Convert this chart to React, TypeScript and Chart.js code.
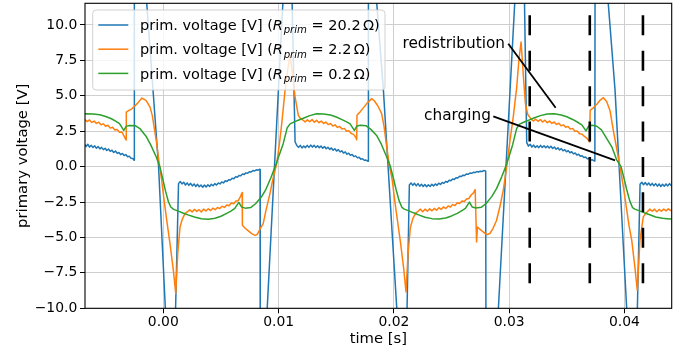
import React, { useEffect, useRef } from 'react';
import { Chart, registerables } from 'chart.js';

Chart.register(...registerables);

type P = [number, number];

const xMin = -0.006791;
const xMax = 0.044094;
const yMin = -10;
const yMax = 11.53;
const xStep = 0.01;
const yStep = 2.5;

const resistances = ['20.2', '2.2', '0.2'];
const colors = ['#1f77b4', '#ff7f0e', '#2ca02c'];

// prim. voltage, R_prim = 20.2 Ohm
const bluePrim: P[] = [
  [-0.0070, 1.45], [-0.00685, 1.6], [-0.0067, 1.42], [-0.00655, 1.58], [-0.0064, 1.38], [-0.00625, 1.5],
  [-0.0061, 1.35], [-0.00595, 1.47], [-0.0058, 1.3], [-0.00565, 1.42], [-0.0055, 1.25], [-0.00535, 1.36],
  [-0.0052, 1.2], [-0.00505, 1.3], [-0.0049, 1.14], [-0.00475, 1.24], [-0.0046, 1.08], [-0.00445, 1.16],
  [-0.0043, 1.0], [-0.00415, 1.1], [-0.0040, 0.94], [-0.00385, 1.0], [-0.0037, 0.85], [-0.00355, 0.93],
  [-0.0034, 0.78], [-0.00325, 0.85], [-0.0031, 0.7], [-0.00295, 0.74], [-0.0028, 0.6], [-0.00265, 0.58],
  [-0.00253, 0.45], [-0.00251, 15.5], [-0.00179, 15.5], [-0.00041, 0], [0.00041, -14], [0.00095, -14],
  [0.00132, -1.2], [0.00147, -1.05], [0.00162, -1.22], [0.00177, -1.1], [0.00192, -1.3], [0.00207, -1.15],
  [0.00222, -1.32], [0.00237, -1.18], [0.00252, -1.36], [0.00267, -1.22], [0.00282, -1.4], [0.00297, -1.25],
  [0.00312, -1.42], [0.00327, -1.3], [0.00342, -1.45], [0.00357, -1.3], [0.00372, -1.44], [0.00387, -1.28],
  [0.00402, -1.4], [0.00417, -1.25], [0.00432, -1.35], [0.00447, -1.2], [0.00462, -1.3], [0.00477, -1.15],
  [0.00492, -1.22], [0.00507, -1.08], [0.00522, -1.15], [0.00537, -1.0], [0.00552, -1.05], [0.00567, -0.92],
  [0.00582, -0.95], [0.00597, -0.82], [0.00612, -0.85], [0.00627, -0.72], [0.00642, -0.75], [0.00657, -0.62],
  [0.00672, -0.64], [0.00687, -0.52], [0.00702, -0.55], [0.00717, -0.44], [0.00732, -0.46], [0.00747, -0.36],
  [0.00762, -0.38], [0.00777, -0.28], [0.00792, -0.3], [0.00807, -0.22], [0.00822, -0.25], [0.00837, -0.18],
  [0.00839, -0.2], [0.00841, -14], [0.00876, -14], [0.01062, 15.5], [0.01107, 15.5], [0.01143, 1.74],
  [0.01158, 1.5], [0.01173, 1.36], [0.01188, 1.5], [0.01203, 1.32], [0.01218, 1.46], [0.01233, 1.34],
  [0.01248, 1.5], [0.01263, 1.36], [0.01278, 1.52], [0.01293, 1.38], [0.01308, 1.5], [0.01323, 1.35],
  [0.01338, 1.48], [0.01353, 1.34], [0.01368, 1.45], [0.01383, 1.3], [0.01398, 1.42], [0.01413, 1.26],
  [0.01428, 1.37], [0.01443, 1.22], [0.01458, 1.32], [0.01473, 1.16], [0.01488, 1.26], [0.01503, 1.1],
  [0.01518, 1.2], [0.01533, 1.04], [0.01548, 1.12], [0.01563, 0.96], [0.01578, 1.04], [0.01593, 0.88],
  [0.01608, 0.95], [0.01623, 0.8], [0.01638, 0.86], [0.01653, 0.71], [0.01668, 0.76], [0.01683, 0.62],
  [0.01698, 0.66], [0.01713, 0.53], [0.01728, 0.56], [0.01743, 0.45], [0.01758, 0.46], [0.01776, 0.38],
  [0.01779, 15.5], [0.01814, 15.5], [0.01909, 5.4], [0.02055, -14], [0.02105, -14], [0.02134, -1.3],
  [0.02149, -1.15], [0.02164, -1.32], [0.02179, -1.18], [0.02194, -1.36], [0.02209, -1.2], [0.02224, -1.38],
  [0.02239, -1.24], [0.02254, -1.4], [0.02269, -1.26], [0.02284, -1.42], [0.02299, -1.28], [0.02314, -1.4],
  [0.02329, -1.25], [0.02344, -1.36], [0.02359, -1.22], [0.02374, -1.32], [0.02389, -1.17], [0.02404, -1.26],
  [0.02419, -1.12], [0.02434, -1.18], [0.02449, -1.04], [0.02464, -1.1], [0.02479, -0.96], [0.02494, -1.0],
  [0.02509, -0.88], [0.02524, -0.9], [0.02539, -0.78], [0.02554, -0.8], [0.02569, -0.68], [0.02584, -0.7],
  [0.02599, -0.6], [0.02614, -0.62], [0.02629, -0.52], [0.02644, -0.54], [0.02659, -0.45], [0.02674, -0.47],
  [0.02689, -0.4], [0.02704, -0.42], [0.02719, -0.35], [0.02734, -0.38], [0.02749, -0.32], [0.02764, -0.34],
  [0.02779, -0.28], [0.02796, -0.3], [0.02799, -14], [0.0288, -14], [0.03074, 15.5], [0.03125, 15.5],
  [0.03152, 1.7], [0.03167, 1.45], [0.03182, 1.58], [0.03197, 1.38], [0.03212, 1.52], [0.03227, 1.35],
  [0.03242, 1.48], [0.03257, 1.34], [0.03272, 1.5], [0.03287, 1.35], [0.03302, 1.48], [0.03317, 1.33],
  [0.03332, 1.46], [0.03347, 1.32], [0.03362, 1.44], [0.03377, 1.28], [0.03392, 1.38], [0.03407, 1.23],
  [0.03422, 1.33], [0.03437, 1.18], [0.03452, 1.27], [0.03467, 1.12], [0.03482, 1.2], [0.03497, 1.05],
  [0.03512, 1.13], [0.03527, 0.98], [0.03542, 1.05], [0.03557, 0.9], [0.03572, 0.96], [0.03587, 0.82],
  [0.03602, 0.87], [0.03617, 0.73], [0.03632, 0.77], [0.03647, 0.64], [0.03662, 0.68], [0.03677, 0.55],
  [0.03692, 0.58], [0.03707, 0.47], [0.03722, 0.48], [0.03737, 0.4], [0.03743, 0.42], [0.03745, 15.5],
  [0.03821, 15.5], [0.03918, 5.4], [0.04045, -14], [0.04101, -14], [0.04135, -1.25], [0.0415, -1.1],
  [0.04165, -1.28], [0.0418, -1.12], [0.04195, -1.3], [0.0421, -1.15], [0.04225, -1.33], [0.0424, -1.18],
  [0.04255, -1.35], [0.0427, -1.2], [0.04285, -1.38], [0.043, -1.22], [0.04315, -1.4], [0.0433, -1.25],
  [0.04345, -1.38], [0.0436, -1.22], [0.04375, -1.36], [0.0439, -1.2], [0.04405, -1.34], [0.0442, -1.18],
];

// prim. voltage, R_prim = 2.2 Ohm
const orangePrim: P[] = [
  [-0.0070, 3.25], [-0.0068, 3.32], [-0.0066, 3.18], [-0.0064, 3.3], [-0.0062, 3.12], [-0.0060, 3.22],
  [-0.0058, 3.05], [-0.0056, 3.14], [-0.0054, 2.95], [-0.0052, 3.02], [-0.0050, 2.85], [-0.0048, 2.92],
  [-0.0046, 2.72], [-0.0044, 2.78], [-0.0042, 2.58], [-0.0040, 2.62], [-0.0038, 2.42], [-0.0036, 2.45],
  [-0.0034, 2.15], [-0.00323, 1.88], [-0.00321, 3.85], [-0.0030, 3.95], [-0.0027, 4.1], [-0.0022, 4.5],
  [-0.00186, 4.84], [-0.0015, 4.68], [-0.00115, 4.2], [-0.00095, 3.6], [-0.0008, 2.8], [-0.0006, 1.8],
  [-0.00043, 0.68], [-0.00014, -0.97], [0.00009, -2.5], [0.0003, -3.79], [0.00058, -5.43], [0.00087, -7.3],
  [0.00108, -8.96], [0.00125, -6.14], [0.00145, -4.26], [0.00165, -3.7], [0.00188, -3.32], [0.0021, -3.18],
  [0.0023, -3.05], [0.0025, -3.2], [0.0027, -3.02], [0.0029, -3.16], [0.0031, -3.04], [0.0033, -3.2],
  [0.0035, -3.0], [0.0037, -3.13], [0.0039, -2.97], [0.0041, -3.1], [0.0043, -2.93], [0.0045, -3.04],
  [0.0047, -2.88], [0.0049, -2.96], [0.0051, -2.8], [0.0053, -2.88], [0.0055, -2.7], [0.0057, -2.76],
  [0.0059, -2.56], [0.0061, -2.62], [0.0063, -2.42], [0.0065, -2.4], [0.0067, -2.1], [0.00684, -1.82],
  [0.00686, -4.14], [0.0071, -4.35], [0.0074, -4.55], [0.0077, -4.75], [0.00795, -4.85], [0.00815, -4.78],
  [0.0084, -4.4], [0.00867, -4.0], [0.0089, -3.1], [0.00925, -1.9], [0.0095, -0.9], [0.00984, 0.21],
  [0.0101, 1.8], [0.01027, 3.03], [0.01056, 5.38], [0.0108, 6.9], [0.011, 7.85], [0.0112, 6.6],
  [0.01143, 4.9], [0.01171, 3.62], [0.0119, 3.4], [0.01214, 3.27], [0.0123, 3.15], [0.0125, 3.3],
  [0.0127, 3.17], [0.0129, 3.32], [0.0131, 3.14], [0.0133, 3.27], [0.0135, 3.1], [0.0137, 3.22],
  [0.0139, 3.04], [0.0141, 3.15], [0.0143, 2.97], [0.0145, 3.05], [0.0147, 2.87], [0.0149, 2.95],
  [0.0151, 2.77], [0.0153, 2.84], [0.0155, 2.65], [0.0157, 2.7], [0.0159, 2.5], [0.0161, 2.54],
  [0.0163, 2.34], [0.0165, 2.28], [0.0167, 2.05], [0.01677, 1.9], [0.0168, 3.62], [0.0171, 3.9],
  [0.0174, 4.2], [0.0177, 4.5], [0.01807, 4.8], [0.0183, 4.65], [0.0186, 4.3], [0.01894, 3.74],
  [0.01915, 2.8], [0.01938, 1.38], [0.0196, 0.1], [0.01986, -0.97], [0.02009, -2.5], [0.0203, -3.75],
  [0.02058, -5.4], [0.02085, -7.2], [0.02105, -8.85], [0.02123, -6.1], [0.02143, -4.3], [0.02165, -3.65],
  [0.02188, -3.3], [0.0221, -3.15], [0.0223, -3.0], [0.0225, -3.18], [0.0227, -3.0], [0.0229, -3.15],
  [0.0231, -2.98], [0.0233, -3.12], [0.0235, -2.95], [0.0237, -3.08], [0.0239, -2.9], [0.0241, -3.02],
  [0.0243, -2.85], [0.0245, -2.95], [0.0247, -2.78], [0.0249, -2.85], [0.0251, -2.68], [0.0253, -2.74],
  [0.0255, -2.55], [0.0257, -2.6], [0.0259, -2.42], [0.0261, -2.46], [0.0263, -2.28], [0.0265, -2.25],
  [0.0267, -2.0], [0.0269, -1.85], [0.02705, -1.62], [0.02717, -5.32], [0.02725, -4.26], [0.0275, -4.45],
  [0.0278, -4.65], [0.0281, -4.8], [0.02835, -4.7], [0.0286, -4.35], [0.0289, -3.8], [0.0292, -2.8],
  [0.0295, -1.6], [0.0298, 0.1], [0.03007, 1.86], [0.03035, 3.5], [0.03065, 5.6], [0.03085, 7.6],
  [0.03103, 8.8], [0.03122, 6.5], [0.0314, 4.5], [0.0316, 3.7], [0.0319, 3.35], [0.0321, 3.22],
  [0.0323, 3.35], [0.0325, 3.2], [0.0327, 3.33], [0.0329, 3.15], [0.0331, 3.28], [0.0333, 3.1],
  [0.0335, 3.22], [0.0337, 3.05], [0.0339, 3.15], [0.0341, 2.98], [0.0343, 3.06], [0.0345, 2.88],
  [0.0347, 2.95], [0.0349, 2.78], [0.0351, 2.84], [0.0353, 2.65], [0.0355, 2.7], [0.0357, 2.5],
  [0.0359, 2.52], [0.0361, 2.32], [0.0363, 2.3], [0.0365, 2.15], [0.03675, 2.0], [0.03698, 1.74],
  [0.03702, 3.97], [0.0373, 4.15], [0.0376, 4.4], [0.0379, 4.7], [0.03817, 4.87], [0.03845, 4.6],
  [0.03874, 3.97], [0.03903, 2.56], [0.03946, 0.68], [0.03989, -1.35], [0.04015, -2.8], [0.0404, -4.2],
  [0.04063, -5.2], [0.0409, -7.1], [0.04111, -8.73], [0.04134, -5.2], [0.04163, -3.55], [0.0419, -3.25],
  [0.0422, -3.0], [0.0424, -3.15], [0.0426, -3.0], [0.0428, -3.18], [0.043, -3.02], [0.0432, -3.15],
  [0.0434, -3.0], [0.0436, -3.12], [0.0438, -2.98], [0.044, -3.1], [0.0442, -3.0],
];

// prim. voltage, R_prim = 0.2 Ohm
const greenPrim: P[] = [
  [-0.0069, 3.71], [-0.0067, 3.73], [-0.0061, 3.72], [-0.0055, 3.66], [-0.0050, 3.54], [-0.0045, 3.38],
  [-0.0041, 3.2], [-0.0038, 3.03], [-0.00343, 2.56], [-0.0032, 2.86], [-0.0029, 2.91], [-0.0024, 2.88],
  [-0.0020, 2.66], [-0.0015, 2.15], [-0.0011, 1.55], [-0.00062, 0.7], [-0.0003, 0.0], [-0.00005, -0.85],
  [0.0002, -1.75], [0.00045, -2.5], [0.00065, -2.85], [0.0009, -3.02], [0.0013, -3.14], [0.0017, -3.27],
  [0.0022, -3.42], [0.0027, -3.56], [0.0033, -3.68], [0.0039, -3.71], [0.0045, -3.64], [0.0050, -3.5],
  [0.0055, -3.3], [0.0059, -3.12], [0.0062, -2.95], [0.00655, -2.52], [0.0068, -2.86], [0.0071, -2.93],
  [0.0076, -2.88], [0.0080, -2.62], [0.0085, -2.15], [0.0089, -1.6], [0.00935, -0.75], [0.0097, 0.0],
  [0.0100, 0.7], [0.0104, 1.62], [0.01075, 2.75], [0.0110, 3.02], [0.0114, 3.18], [0.0117, 3.27],
  [0.0122, 3.43], [0.0127, 3.6], [0.0133, 3.73], [0.0139, 3.72], [0.0145, 3.65], [0.0150, 3.5],
  [0.0155, 3.32], [0.0159, 3.16], [0.0162, 3.02], [0.01657, 2.56], [0.0168, 2.87], [0.0171, 2.92],
  [0.0176, 2.88], [0.0180, 2.63], [0.0185, 2.2], [0.0189, 1.6], [0.01938, 0.68], [0.0197, 0.0],
  [0.01995, -0.8], [0.0202, -1.65], [0.02045, -2.4], [0.0207, -2.88], [0.0209, -3.0], [0.0213, -3.12],
  [0.0217, -3.26], [0.0222, -3.42], [0.0227, -3.57], [0.0233, -3.67], [0.0239, -3.7], [0.0245, -3.62],
  [0.0250, -3.48], [0.0255, -3.3], [0.0259, -3.1], [0.0262, -2.95], [0.02655, -2.5], [0.0268, -2.85],
  [0.0271, -2.92], [0.0276, -2.86], [0.0280, -2.6], [0.0285, -2.1], [0.0289, -1.55], [0.02935, -0.72],
  [0.0297, 0.0], [0.0300, 0.75], [0.0303, 1.55], [0.03065, 2.7], [0.0309, 3.0], [0.0313, 3.15],
  [0.0317, 3.28], [0.0322, 3.45], [0.0327, 3.6], [0.0333, 3.72], [0.0339, 3.73], [0.0345, 3.65],
  [0.0350, 3.52], [0.0355, 3.33], [0.0359, 3.15], [0.0363, 2.95], [0.03666, 2.52], [0.0369, 2.87],
  [0.0372, 2.92], [0.0376, 2.85], [0.0380, 2.6], [0.03845, 2.0], [0.0389, 1.4], [0.03931, 0.5],
  [0.0397, 0.0], [0.03995, -0.8], [0.0402, -1.65], [0.04045, -2.4], [0.0407, -2.9], [0.0409, -3.0],
  [0.0413, -3.12], [0.0417, -3.25], [0.0422, -3.4], [0.0427, -3.55], [0.0433, -3.65], [0.0439, -3.69],
  [0.0443, -3.68],
];

// dashed vertical markers
const markerTimes = [0.03178, 0.03699, 0.0416];
const markerSpan = [10.68, -8.3];

// annotations
const noteLabels = ['redistribution', 'charging'];
const noteTextAt: P[] = [[0.02964, 8.63], [0.02842, 3.55]];
const noteFrom: P[] = [[0.02992, 8.68], [0.02862, 3.55]];
const noteTo: P[] = [[0.03403, 4.16], [0.03918, 0.44]];

const FONT = "'DejaVu Sans', sans-serif";
const LABEL_SIZE = 14.8;
const LEGEND_SIZE = 14.5;

const toXY = (arr: P[]) => arr.map(([x, y]) => ({ x, y }));

function drawLegend(ctx: CanvasRenderingContext2D) {
  const bx = 92.7, by = 10, bw = 292.3, bh = 80, r = 3.5;
  ctx.save();
  ctx.beginPath();
  ctx.moveTo(bx + r, by);
  ctx.arcTo(bx + bw, by, bx + bw, by + bh, r);
  ctx.arcTo(bx + bw, by + bh, bx, by + bh, r);
  ctx.arcTo(bx, by + bh, bx, by, r);
  ctx.arcTo(bx, by, bx + bw, by, r);
  ctx.closePath();
  ctx.fillStyle = 'rgba(255,255,255,0.8)';
  ctx.fill();
  ctx.strokeStyle = 'rgba(204,204,204,0.9)';
  ctx.lineWidth = 1;
  ctx.stroke();
  const fs = LEGEND_SIZE;
  resistances.forEach((res, i) => {
    const cy = 25 + i * 24.2;
    ctx.strokeStyle = colors[i];
    ctx.lineWidth = 1.5;
    ctx.beginPath();
    ctx.moveTo(98.3, cy);
    ctx.lineTo(128.3, cy);
    ctx.stroke();
    let x = 140;
    const base = cy + 5.2;
    ctx.fillStyle = '#000';
    ctx.textBaseline = 'alphabetic';
    ctx.textAlign = 'left';
    const seg = (text: string, font: string, dy = 0) => {
      ctx.font = font;
      ctx.fillText(text, x, base + dy);
      x += ctx.measureText(text).width;
    };
    seg('prim. voltage [V] (', `${fs}px ${FONT}`);
    seg('R', `italic ${fs}px ${FONT}`);
    x += 0.8;
    seg('prim', `italic ${(fs * 0.7).toFixed(2)}px ${FONT}`, 3.2);
    seg(` = ${res}`, `${fs}px ${FONT}`);
    x += 2.4;
    seg('\u03A9)', `${fs}px ${FONT}`);
  });
  ctx.restore();
}

const overlay = {
  id: 'overlay',
  afterDatasetsDraw(chart: any) {
    const { ctx, chartArea: a, scales } = chart;
    const xs = scales.x, ys = scales.y;
    ctx.save();
    ctx.strokeStyle = '#000';
    ctx.lineWidth = 1.1;
    ctx.strokeRect(a.left, a.top, a.right - a.left, a.bottom - a.top);
    ctx.font = `15.3px ${FONT}`;
    ctx.fillStyle = '#000';
    ctx.textAlign = 'right';
    ctx.textBaseline = 'middle';
    noteLabels.forEach((s, i) => {
      ctx.fillText(s, xs.getPixelForValue(noteTextAt[i][0]), ys.getPixelForValue(noteTextAt[i][1]));
    });
    ctx.restore();
  },
  afterDraw(chart: any) {
    drawLegend(chart.ctx);
  },
};

export default function App() {
  const ref = useRef<HTMLCanvasElement | null>(null);
  useEffect(() => {
    if (!ref.current) return;
    const series = [bluePrim, orangePrim, greenPrim];
    const datasets: any[] = series.map((s, i) => ({
      label: `R_prim = ${resistances[i]}`,
      data: toXY(s),
      borderColor: colors[i],
      borderWidth: 1.5,
      pointRadius: 0,
      tension: 0,
      fill: false,
      borderJoinStyle: 'round',
      order: 3 - i,
      clip: 0,
    }));
    markerTimes.forEach((t) => {
      datasets.push({
        data: [{ x: t, y: markerSpan[0] }, { x: t, y: markerSpan[1] }],
        borderColor: '#000',
        borderWidth: 2.6,
        borderDash: [20, 15.4],
        pointRadius: 0,
        fill: false,
        order: 0,
        clip: 0,
      });
    });
    noteFrom.forEach((f, i) => {
      datasets.push({
        data: [{ x: f[0], y: f[1] }, { x: noteTo[i][0], y: noteTo[i][1] }],
        borderColor: '#000',
        borderWidth: 1.8,
        pointRadius: 0,
        fill: false,
        order: 0,
        clip: 0,
      });
    });
    const tickFont = { family: FONT, size: 13.9 };
    const titleFont = { family: FONT, size: LABEL_SIZE };
    const chart = new Chart(ref.current, {
      type: 'line',
      data: { datasets },
      options: {
        animation: false,
        responsive: false,
        events: [],
        layout: { padding: { left: 0, right: 9.3, top: 3.3, bottom: 0 } },
        plugins: { legend: { display: false }, tooltip: { enabled: false } },
        scales: {
          x: {
            type: 'linear',
            min: xMin,
            max: xMax,
            ticks: {
              stepSize: xStep,
              includeBounds: false,
              callback: (v: any) => Number(v).toFixed(2),
              font: tickFont,
              color: '#000',
              padding: 0.3,
              maxRotation: 0,
              autoSkip: false,
            },
            grid: { color: '#cfcfcf', lineWidth: 1, tickColor: '#000', tickLength: 5 },
            border: { display: false },
            title: { display: true, text: 'time [s]', font: titleFont, color: '#000', padding: { top: 0, bottom: 5.2 } },
            afterFit: (s: any) => { s.height = 44.7; s.paddingLeft = 0; s.paddingRight = 0; },
          },
          y: {
            type: 'linear',
            min: yMin,
            max: yMax,
            ticks: {
              stepSize: yStep,
              includeBounds: false,
              callback: (v: any) => Number(v).toFixed(1).replace('-', '\u2212'),
              font: tickFont,
              color: '#000',
              padding: 2.7,
              autoSkip: false,
            },
            grid: { color: '#cfcfcf', lineWidth: 1, tickColor: '#000', tickLength: 5 },
            border: { display: false },
            title: { display: true, text: 'primary voltage [V]', font: titleFont, color: '#000', padding: { top: 14.5, bottom: 0 } },
            afterFit: (s: any) => { s.width = 85; s.paddingTop = 0; s.paddingBottom = 0; },
          },
        },
      },
      plugins: [overlay],
    } as any);
    return () => chart.destroy();
  }, []);
  return (
    <div style={{ position: 'fixed', left: 0, top: 0, width: 681, height: 353, background: '#fff' }}>
      <canvas ref={ref} width={681} height={353} style={{ display: 'block' }} />
    </div>
  );
}
